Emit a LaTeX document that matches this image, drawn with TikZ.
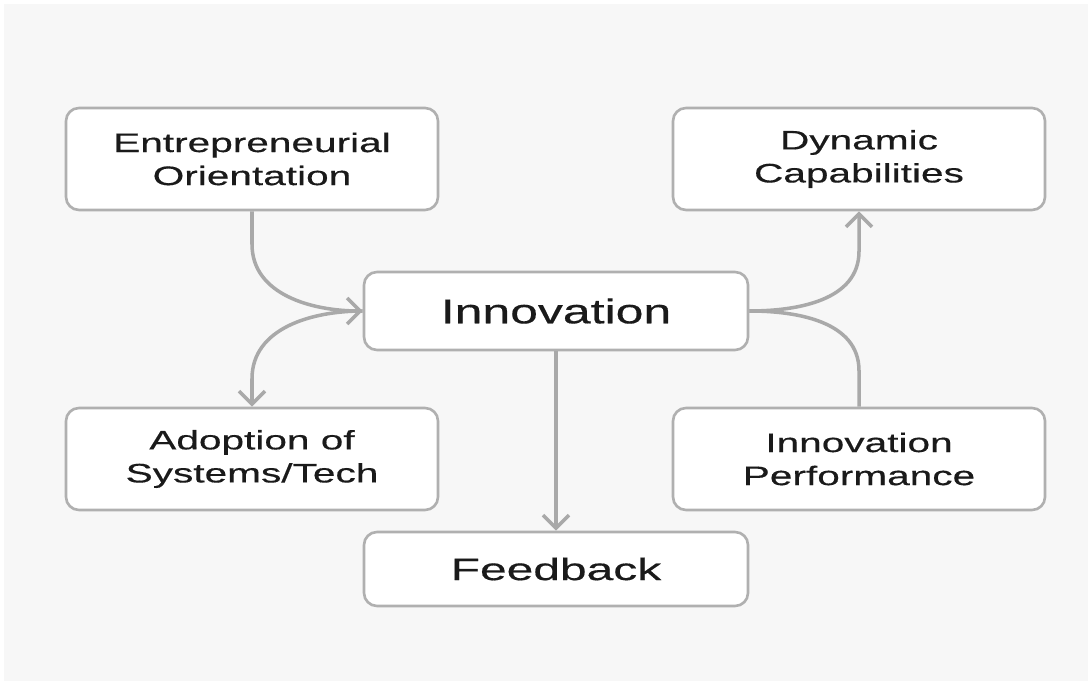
\documentclass[tikz,border=0pt]{standalone}
\usepackage{fontspec}
\usetikzlibrary{arrows.meta}

\newfontfamily\boxfont[FakeStretch=1.52,FakeBold=0.4]{Liberation Sans}
\newfontfamily\bigfont[FakeStretch=1.45,FakeBold=0.4]{Liberation Sans}
\newfontfamily\fbfont[FakeStretch=1.55,FakeBold=0.4]{Liberation Sans}

\definecolor{bgcol}{HTML}{F7F7F7}
\definecolor{edgecol}{HTML}{B0B0B0}
\definecolor{linecol}{HTML}{A9A9A9}
\definecolor{txtcol}{HTML}{1A1A1A}

\tikzset{
  box/.style={draw=edgecol, line width=0.75pt, fill=white, rounded corners=1.3mm,
    minimum width=3.72cm, minimum height=1.02cm, align=center, text=txtcol,
    inner sep=0pt, font=\boxfont\fontsize{7.6}{9.4}\selectfont},
  bigbox/.style={box, minimum width=3.84cm, minimum height=0.78cm,
    font=\bigfont\fontsize{9.8}{11}\selectfont},
  link/.style={draw=linecol, line width=1pt},
  flow/.style={link, -{Straight Barb[length=1.3mm,width=2.6mm,line width=1pt]}}
}

\begin{document}
\begin{tikzpicture}
\useasboundingbox (0,0) rectangle (10.88,6.81);
\fill[white] (0,0) rectangle (10.88,6.81);
\fill[bgcol] (0.04,0) rectangle (10.88,6.77);

% boxes
\node[box] (eo) at (2.52,5.22) {Entrepreneurial\\Orientation};
\node[box] (dc) at (8.59,5.22) {Dynamic\\Capabilities};
\node[bigbox] (inn) at (5.56,3.70) {Innovation};
\node[box] (ad) at (2.52,2.22) {Adoption of\\Systems/Tech};
\node[box] (ip) at (8.59,2.22) {Innovation\\Performance};
\node[bigbox, minimum height=0.74cm, font=\fbfont\fontsize{8.8}{10}\selectfont] (fb) at (5.56,1.12) {Feedback};

% connectors
\draw[flow] (eo.south) -- ([yshift=-0.33cm]eo.south) to[out=-90,in=180] (inn.west);
\draw[flow] (inn.west) to[out=180,in=90] ([yshift=0.28cm]ad.north) -- (ad.north);
\draw[flow] (inn.east) to[out=0,in=-90] ([yshift=-0.40cm]dc.south) -- (dc.south);
\draw[link] (ip.north) -- ([yshift=0.36cm]ip.north) to[out=90,in=0] (inn.east);
\draw[flow] (inn.south) -- (fb.north);
\end{tikzpicture}
\end{document}
